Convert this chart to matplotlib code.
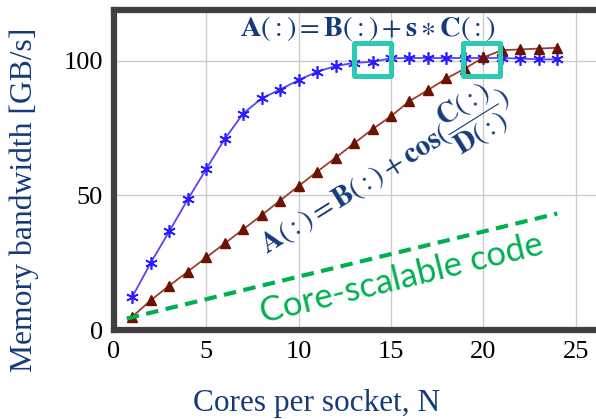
import numpy as np
import matplotlib
matplotlib.use('Agg')
from matplotlib import pyplot as plt
from matplotlib.patches import Rectangle

# cores per socket
cores = list(range(1, 25))
# A(:) = B(:) + s*C(:)
bw_triad = [12.4, 25.0, 36.7, 48.5, 59.8, 70.9, 80.4, 86.0, 89.3, 92.8, 95.9, 98.0,
            99.2, 99.6, 100.9, 101.0, 101.0, 101.0, 101.0, 101.0, 101.0, 100.8, 100.5, 100.5]
# A(:) = B(:) + cos(C(:)/D(:))
bw_cos = [5.0, 11.1, 16.5, 21.7, 27.0, 32.2, 37.4, 42.7, 48.1, 53.5, 58.8, 64.0,
          69.3, 74.6, 79.4, 85.0, 89.1, 93.4, 97.1, 101.2, 103.9, 104.2, 104.5, 104.8]
# core-scalable reference line
scal_x = [0.7, 24.0]
scal_y = [4.3, 43.3]

navy = '#143a7c'
plt.rcParams['mathtext.fontset'] = 'stix'

fig = plt.figure(figsize=(5.96, 4.19), dpi=100)
ax = fig.add_axes([0.191, 0.212, 0.837, 0.764])

ax.plot(cores, bw_triad, color='#5544ff', lw=1.3, marker=(6, 2, 0), ms=9,
        mec='#2a1aff', mew=1.2, zorder=3)
ax.plot(cores, bw_cos, color='#9a4030', lw=1.3, marker='^', ms=7,
        mfc='#6b1200', mec='#6b1200', zorder=3)
ax.plot(scal_x, scal_y, color='#00b050', lw=3, ls=(0, (3, 1.8)), zorder=3)

# highlighted points
for x0 in [13.0, 18.9]:
    ax.add_patch(Rectangle((x0, 94.3), 2.0, 12.3, fill=False, ec='#2dcab3',
                           lw=3.6, zorder=4, joinstyle='round'))

ax.text(13.75, 111.8, r'$\mathbf{A}(:)=\mathbf{B}(:)+\mathbf{s}\ast\mathbf{C}(:)$',
        color=navy, fontsize=20.5, ha='center', va='center')
ax.text(14.75, 58.0, r'$\mathbf{A}(:)=\mathbf{B}(:)+\mathbf{cos}(\dfrac{\mathbf{C}(:)}{\mathbf{D}(:)})$',
        color=navy, fontsize=21, ha='center', va='center', rotation=32,
        rotation_mode='anchor')
ax.text(15.6, 19.0, 'Core-scalable code', color='#00b050', fontsize=25,
        family='Lato', ha='center', va='center', rotation=13.8,
        rotation_mode='anchor')

ax.set_xlim(0, 27)
ax.set_ylim(0, 118.8)
ax.set_xticks([0, 5, 10, 15, 20, 25])
ax.set_yticks([0, 50, 100])
ax.grid(True, color='#cccccc', lw=1)
ax.set_axisbelow(True)
ax.tick_params(length=0, labelsize=19, pad=8)
for lab in ax.get_xticklabels() + ax.get_yticklabels():
    lab.set_family('Liberation Serif')
for sp in ax.spines.values():
    sp.set_color('#404040')
    sp.set_linewidth(4.5)

ax.set_xlabel('Cores per socket, N', family='Liberation Serif', fontsize=22.5,
              color=navy)
ax.set_ylabel('Memory bandwidth [GB/s]', family='Liberation Serif', fontsize=22.8,
              color=navy)
ax.xaxis.set_label_coords(0.407, -0.185)
ax.yaxis.set_label_coords(-0.15, 0.406)

plt.savefig('out.png', dpi=100)
